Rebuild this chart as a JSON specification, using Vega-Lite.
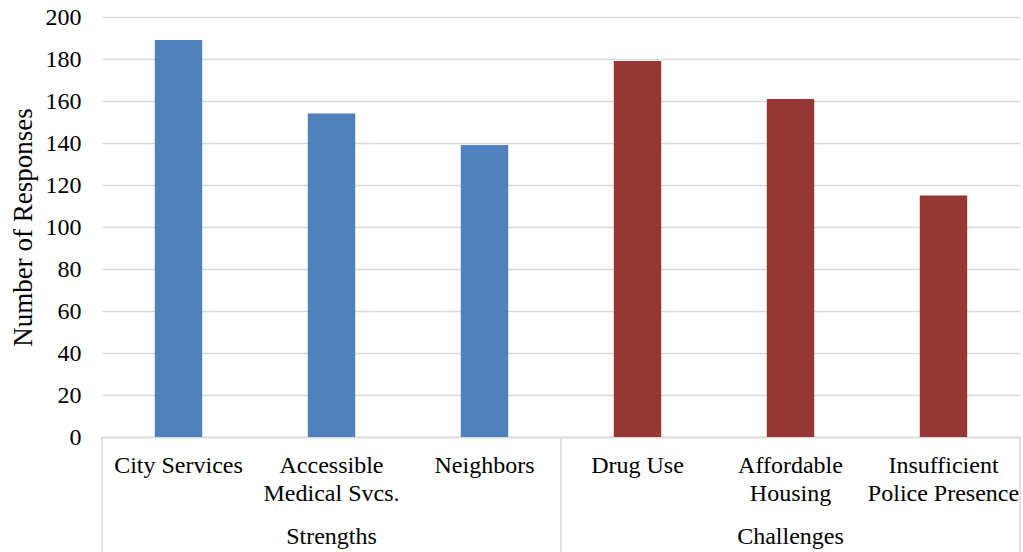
{
  "$schema": "https://vega.github.io/schema/vega-lite/v6.json",
  "width": 918,
  "height": 420,
  "autosize": {"type": "none"},
  "padding": {"left": 102, "top": 17, "right": 3, "bottom": 115},
  "background": "white",
  "config": {
    "view": {"stroke": null},
    "font": "Liberation Serif",
    "text": {"font": "Liberation Serif", "fontSize": 24, "color": "#000000"}
  },
  "data": {
    "values": [
      {"category": "City Services", "group": "Strengths", "value": 189},
      {"category": "Accessible|Medical Svcs.", "group": "Strengths", "value": 154},
      {"category": "Neighbors", "group": "Strengths", "value": 139},
      {"category": "Drug Use", "group": "Challenges", "value": 179},
      {"category": "Affordable|Housing", "group": "Challenges", "value": 161},
      {"category": "Insufficient|Police Presence", "group": "Challenges", "value": 115}
    ]
  },
  "encoding": {
    "x": {
      "field": "category",
      "type": "nominal",
      "sort": null,
      "scale": {"paddingInner": 0, "paddingOuter": 0},
      "axis": {
        "title": null,
        "labelAngle": 0,
        "labelExpr": "split(datum.label, '|')",
        "labelFont": "Liberation Serif",
        "labelFontSize": 24,
        "labelLineHeight": 28,
        "labelColor": "#000000",
        "labelPadding": 16,
        "labelLimit": 0,
        "labelOverlap": false,
        "labelBound": false,
        "ticks": false,
        "domainColor": "#d9d9d9",
        "domainWidth": 1.5,
        "grid": false
      }
    }
  },
  "layer": [
    {
      "mark": {"type": "bar", "width": {"band": 0.31}},
      "encoding": {
        "y": {
          "field": "value",
          "type": "quantitative",
          "scale": {"domain": [0, 200], "nice": false},
          "axis": {
            "title": "Number of Responses",
            "titleFont": "Liberation Serif",
            "titleFontSize": 27,
            "titleFontWeight": "normal",
            "titleColor": "#000000",
            "titlePadding": 8,
            "values": [0, 20, 40, 60, 80, 100, 120, 140, 160, 180, 200],
            "labelFont": "Liberation Serif",
            "labelFontSize": 24,
            "labelColor": "#000000",
            "labelPadding": 21,
            "domain": false,
            "ticks": false,
            "grid": true,
            "gridColor": "#d9d9d9",
            "gridWidth": 1.5
          }
        },
        "color": {
          "field": "group",
          "type": "nominal",
          "scale": {"domain": ["Strengths", "Challenges"], "range": ["#4f81bd", "#953735"]},
          "legend": null
        }
      }
    },
    {
      "transform": [{"filter": "datum.category == 'City Services' || datum.category == 'Drug Use'"}],
      "mark": {"type": "rule", "color": "#d9d9d9", "strokeWidth": 1.5},
      "encoding": {
        "x": {"field": "category", "type": "nominal", "sort": null, "bandPosition": 0},
        "y": {"datum": 0, "type": "quantitative"},
        "y2": {"datum": -55}
      }
    },
    {
      "transform": [{"filter": "datum.category == 'Insufficient|Police Presence'"}],
      "mark": {"type": "rule", "color": "#d9d9d9", "strokeWidth": 1.5},
      "encoding": {
        "x": {"field": "category", "type": "nominal", "sort": null, "bandPosition": 1},
        "y": {"datum": 0, "type": "quantitative"},
        "y2": {"datum": -55}
      }
    },
    {
      "transform": [{"filter": "datum.category == 'Accessible|Medical Svcs.' || datum.category == 'Affordable|Housing'"}],
      "mark": {"type": "text", "baseline": "middle", "align": "center"},
      "encoding": {
        "x": {"field": "category", "type": "nominal", "sort": null, "bandPosition": 0.5},
        "y": {"datum": -47.6, "type": "quantitative"},
        "text": {"field": "group"}
      }
    }
  ]
}
